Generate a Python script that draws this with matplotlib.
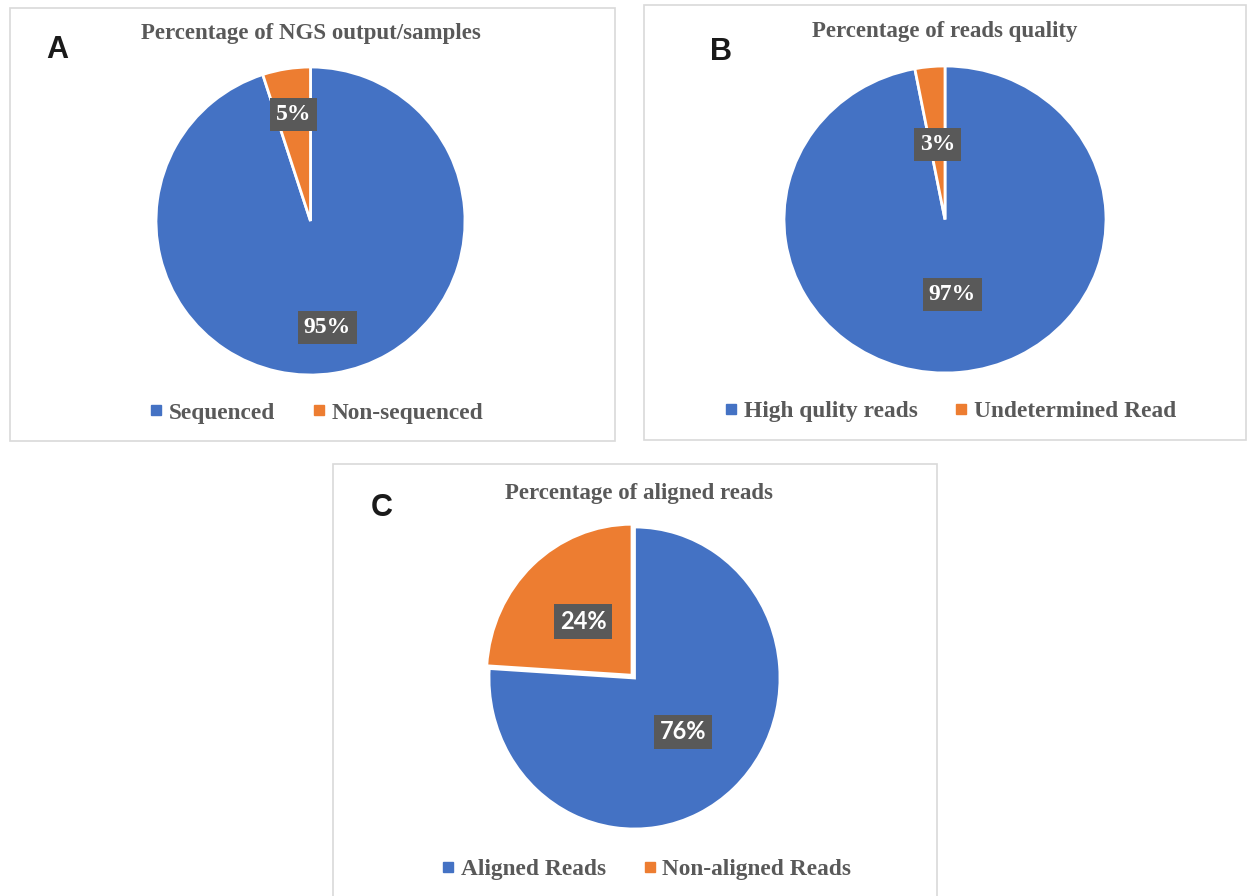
import matplotlib
matplotlib.use("Agg")
import matplotlib.pyplot as plt
from matplotlib.lines import Line2D
from matplotlib.patches import Rectangle

W, H = 1248, 896

# panel data
titles = ["Percentage of NGS output/samples",
          "Percentage of reads quality",
          "Percentage of aligned reads"]
panel_tags = ["A", "B", "C"]
labels_a = ["Sequenced", "Non-sequenced"]
values_a = [95, 5]
labels_b = ["High qulity reads", "Undetermined Read"]
values_b = [97, 3]
labels_c = ["Aligned Reads", "Non-aligned Reads"]
values_c = [76, 24]

BLUE, ORANGE = "#4472C4", "#ED7D31"
GREY = "#595959"
SERIF = ["Liberation Serif", "DejaVu Serif"]
SANS = ["Liberation Sans", "DejaVu Sans"]

fig = plt.figure(figsize=(W / 100, H / 100), dpi=100)


def px(x, y):
    return x / W, 1 - y / H


def frame(x0, y0, x1, y1):
    fig.patches.append(Rectangle(px(x0, y1), (x1 - x0) / W, (y1 - y0) / H,
                                 transform=fig.transFigure, fill=False,
                                 edgecolor="#d9d9d9", lw=1.2))


def pie_panel(values, cx, cy, rx, ry, pctdist, explode, lbl_font):
    m = 1.12
    ax = fig.add_axes([(cx - m * rx) / W, 1 - (cy + m * ry) / H,
                       2 * m * rx / W, 2 * m * ry / H])
    wedges, _, autotexts = ax.pie(
        values, colors=[BLUE, ORANGE], startangle=90, counterclock=False,
        explode=explode, autopct="%d%%", pctdistance=pctdist,
        wedgeprops=dict(edgecolor="white", linewidth=2))
    for t in autotexts:
        t.set_color("white")
        t.set_fontweight("bold")
        t.set_fontsize(17)
        t.set_family(lbl_font)
        t.set_bbox(dict(boxstyle="square,pad=0.25", facecolor=GREY,
                        edgecolor="none"))
    ax.set_aspect("auto")
    ax.set_xlim(-m, m)
    ax.set_ylim(-m, m)
    return ax


def legend(labels, cx, cy):
    handles = [Line2D([], [], marker="s", linestyle="none", markersize=7,
                      markerfacecolor=c, markeredgecolor=c)
               for c in (BLUE, ORANGE)]
    fig.legend(handles, labels, loc="center", bbox_to_anchor=px(cx, cy),
               ncol=2, frameon=False, handlelength=0.5, handletextpad=0.3,
               columnspacing=1.6,
               prop=dict(family=SERIF, weight="bold", size=16.8),
               labelcolor=GREY)


def heading(x, y, text):
    fig.text(*px(x, y), text, ha="center", va="center", fontsize=16.5,
             fontweight="bold", color=GREY, family=SERIF)


def tag(x, y, text):
    fig.text(*px(x, y), text, ha="center", va="center", fontsize=22,
             fontweight="bold", color="#1a1a1a", family=SANS)


# A
frame(10, 8, 615, 441)
pie_panel(values_a, 310.5, 221, 154.5, 154, 0.70, (0, 0), SERIF)
heading(311, 34, titles[0])
tag(57, 50, panel_tags[0])
legend(labels_a, 317, 413)

# B
frame(644, 5, 1246, 440)
pie_panel(values_b, 945, 219.5, 161, 153.5, 0.49, (0, 0), SERIF)
heading(945, 32, titles[1])
tag(721, 52, panel_tags[1])
legend(labels_b, 951, 411)

# C
frame(333, 464, 937, 900)
pie_panel(values_c, 634.5, 678, 145.5, 151, 0.49, (0, 0.025),
          ["Lato", "DejaVu Sans"])
heading(639, 493, titles[2])
tag(382, 508, panel_tags[2])
legend(labels_c, 647, 869)

fig.savefig("out.png", dpi=100, facecolor="white")
